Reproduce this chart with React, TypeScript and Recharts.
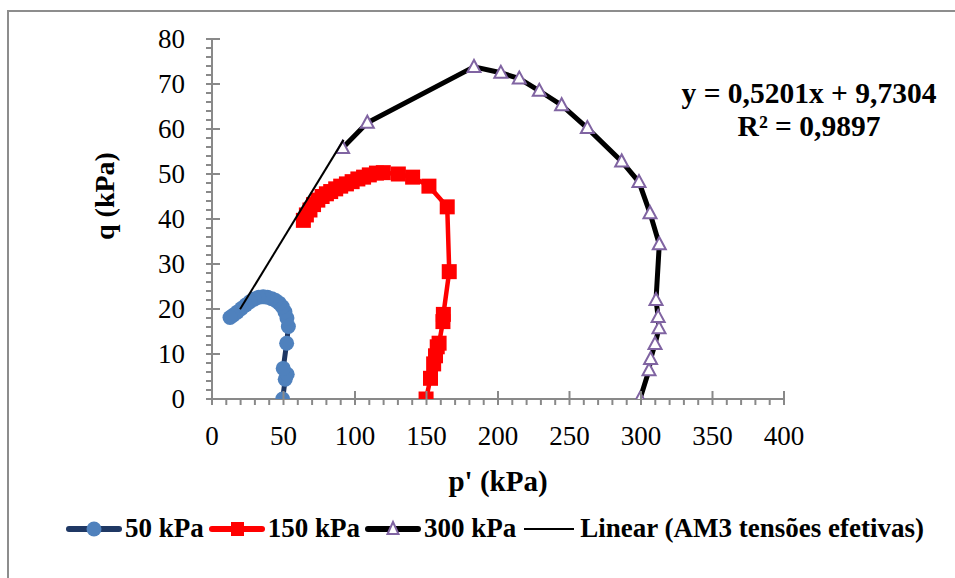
import { ScatterChart, Scatter, XAxis, YAxis, Label } from "recharts";

// p' (kPa) e q (kPa)
const p50 = [49.4, 51.2, 52.6, 49.8, 52.2, 53.4, 52.4, 51.0, 49.2, 47.0, 44.5, 41.8, 38.8, 35.8, 32.6, 29.5, 26.5, 23.6, 20.6, 17.6, 14.8, 12.6];
const q50 = [0, 4.4, 5.5, 6.8, 12.4, 16.1, 18.0, 19.4, 20.5, 21.3, 21.9, 22.3, 22.6, 22.7, 22.6, 22.2, 21.6, 20.9, 20.1, 19.3, 18.6, 18.1];

const p150 = [149.7, 152.8, 155.0, 156.3, 157.5, 158.8, 161.5, 161.8, 165.9, 164.5, 151.7, 140.3, 130.3, 119.8, 115.0, 110.0, 106.0, 102.0, 98.0, 94.0, 90.0, 86.5, 83.0, 80.0, 77.0, 74.0, 71.0, 68.5, 66.0, 63.9];
const q150 = [0, 4.6, 7.8, 9.6, 11.6, 12.4, 17.2, 18.8, 28.3, 42.7, 47.3, 49.3, 50.0, 50.3, 50.2, 49.8, 49.3, 48.9, 48.3, 47.8, 47.3, 46.7, 46.1, 45.6, 45.0, 44.2, 43.2, 42.0, 40.9, 39.7];

const p300 = [299.3, 305.6, 306.7, 309.8, 312.6, 312.0, 310.5, 312.8, 306.3, 298.6, 286.5, 262.5, 244.5, 228.9, 214.9, 202.0, 183.2, 108.6, 91.3];
const q300 = [0, 6.4, 8.9, 12.2, 15.7, 18.2, 22.0, 34.4, 41.3, 48.2, 52.8, 60.2, 65.3, 68.5, 71.2, 72.5, 73.8, 61.4, 55.8];

// linha de tendência
const slope = 0.5201;
const intercept = 9.7304;
const trendX = [19.6, 92];

const xTicks = Array.from({ length: 41 }, (_, i) => i * 10);
const yTicks = Array.from({ length: 41 }, (_, i) => i * 2);

const toPts = (p: number[], q: number[]) => p.map((v, i) => ({ p: v, q: q[i] }));
const s50 = toPts(p50, q50);
const s150 = toPts(p150, q150);
const s300 = toPts(p300, q300);
const trend = trendX.map((x) => ({ p: x, q: slope * x + intercept }));

const font = "'Liberation Serif', 'Times New Roman', serif";
const grey = "#898989";

const XTick = (props: any) => {
  const { x, y, payload } = props;
  const major = payload.value % 50 === 0;
  return (
    <g>
      <line x1={x} x2={x} y1={major ? y - 8 : y} y2={y + 6} stroke={grey} strokeWidth={2} />
      {major && (
        <text x={x} y={y + 37} textAnchor="middle" dominantBaseline="central" fontFamily={font} fontSize={27} fill="#000">
          {payload.value}
        </text>
      )}
    </g>
  );
};

const YTick = (props: any) => {
  const { x, y, payload } = props;
  const major = payload.value % 10 === 0;
  return (
    <g>
      <line x1={x - 6} x2={major ? x + 8 : x} y1={y} y2={y} stroke={grey} strokeWidth={2} />
      {major && (
        <text x={x - 27} y={y} textAnchor="end" dominantBaseline="central" fontFamily={font} fontSize={27} fill="#000">
          {payload.value}
        </text>
      )}
    </g>
  );
};

const Circle = (props: any) => <circle cx={props.cx} cy={props.cy} r={7.5} fill="#4F81BD" />;
const Square = (props: any) => <rect x={props.cx - 7.5} y={props.cy - 7.5} width={15} height={15} fill="#FF0000" />;
const Tri = (props: any) => (
  <polygon
    points={`${props.cx},${props.cy - 7} ${props.cx - 6.5},${props.cy + 5} ${props.cx + 6.5},${props.cy + 5}`}
    fill="#fff"
    stroke="#8064A2"
    strokeWidth={2}
  />
);
const Nothing = () => <g />;

const legendItems = [
  { name: "50 kPa", color: "#1F3864", marker: "circle" },
  { name: "150 kPa", color: "#FF0000", marker: "square" },
  { name: "300 kPa", color: "#000000", marker: "triangle" },
  { name: "Linear (AM3 tensões efetivas)", color: "#000000", marker: "none" },
];

const LegendIcon = ({ color, marker }: { color: string; marker: string }) => (
  <svg width={56} height={20} style={{ display: "block" }}>
    <line x1={3} x2={53} y1={10} y2={10} stroke={color} strokeWidth={marker === "none" ? 2 : 6} strokeLinecap={marker === "none" ? "butt" : "round"} />
    {marker === "circle" && <circle cx={28} cy={10} r={7.5} fill="#4F81BD" />}
    {marker === "square" && <rect x={22} y={3} width={13} height={14} fill="#FF0000" />}
    {marker === "triangle" && <polygon points="28,3 22.5,15 33.5,15" fill="#fff" stroke="#8064A2" strokeWidth={2} />}
  </svg>
);

export default function App() {
  return (
    <div style={{ position: "absolute", left: 0, top: 0, width: 955, height: 578, background: "#fff", overflow: "hidden", fontFamily: font }}>
      <div style={{ position: "absolute", left: 7, top: 10, width: 1000, height: 1000, borderLeft: "2px solid #8d8d8d", borderTop: "2px solid #8d8d8d" }} />
      <div style={{ position: "absolute", left: 0, top: 0 }}>
        <ScatterChart width={955} height={578} margin={{ top: 39, right: 171, bottom: 119, left: 152 }}>
          <XAxis
            type="number"
            dataKey="p"
            domain={[0, 400]}
            ticks={xTicks}
            interval={0}
            height={60}
            tickSize={0}
            tickMargin={0}
            tick={<XTick />}
            axisLine={{ stroke: grey, strokeWidth: 2 }}
            allowDataOverflow
          >
            <Label
              content={() => (
                <text x={498} y={481} textAnchor="middle" dominantBaseline="central" fontFamily={font} fontSize={29} fontWeight="bold" fill="#000">
                  p' (kPa)
                </text>
              )}
            />
          </XAxis>
          <YAxis
            type="number"
            dataKey="q"
            domain={[0, 80]}
            ticks={yTicks}
            interval={0}
            width={60}
            tickSize={0}
            tickMargin={0}
            tick={<YTick />}
            axisLine={{ stroke: grey, strokeWidth: 2 }}
            allowDataOverflow
          >
            <Label
              content={() => (
                <text
                  x={104}
                  y={196}
                  transform="rotate(-90 104 196)"
                  textAnchor="middle"
                  dominantBaseline="central"
                  fontFamily={font}
                  fontSize={28}
                  fontWeight="bold"
                  fill="#000"
                >
                  q (kPa)
                </text>
              )}
            />
          </YAxis>
          <Scatter data={s50} line={{ stroke: "#1F3864", strokeWidth: 5 }} lineType="joint" shape={<Circle />} isAnimationActive={false} />
          <Scatter data={s150} line={{ stroke: "#FF0000", strokeWidth: 4.5 }} lineType="joint" shape={<Square />} isAnimationActive={false} />
          <Scatter data={s300} line={{ stroke: "#000000", strokeWidth: 5 }} lineType="joint" shape={<Tri />} isAnimationActive={false} />
          <Scatter data={trend} line={{ stroke: "#000000", strokeWidth: 2 }} lineType="joint" shape={<Nothing />} isAnimationActive={false} />
        </ScatterChart>
      </div>
      <div style={{ position: "absolute", left: 600, width: 418, top: 77, textAlign: "center", fontWeight: "bold", fontSize: 29.5, lineHeight: "33px", color: "#000" }}>
        <div>y = 0,5201x + 9,7304</div>
        <div>R² = 0,9897</div>
      </div>
      <div style={{ position: "absolute", left: 66, top: 513, display: "flex", alignItems: "center", fontWeight: "bold", fontSize: 27, color: "#000", whiteSpace: "nowrap" }}>
        {legendItems.map((it) => (
          <div key={it.name} style={{ display: "flex", alignItems: "center", marginRight: 5 }}>
            <LegendIcon color={it.color} marker={it.marker} />
            <span style={{ marginLeft: 3 }}>{it.name}</span>
          </div>
        ))}
      </div>
    </div>
  );
}
